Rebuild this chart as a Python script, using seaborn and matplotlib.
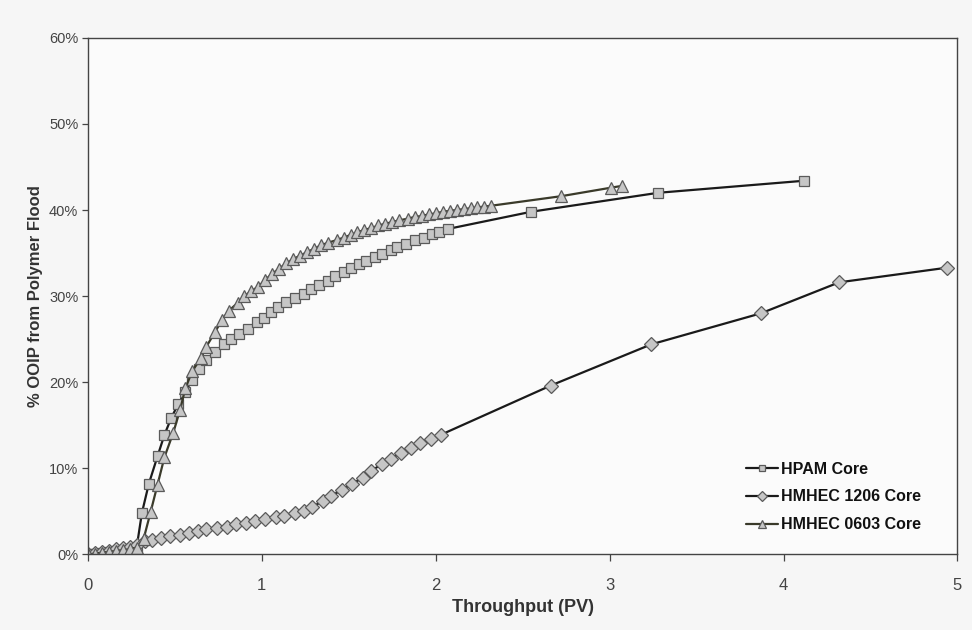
import matplotlib
matplotlib.use("Agg")
import matplotlib.pyplot as plt
import seaborn as sns
import pandas as pd
from matplotlib.ticker import PercentFormatter, MultipleLocator

# ---------------- data ----------------
hpam_x = [0, 0.04, 0.08, 0.12, 0.16, 0.20, 0.24, 0.28, 0.31, 0.35, 0.40, 0.44, 0.48,
          0.52, 0.56, 0.60, 0.64, 0.68, 0.73, 0.78, 0.82, 0.87, 0.92, 0.97, 1.01,
          1.05, 1.09, 1.14, 1.19, 1.24, 1.28, 1.33, 1.38, 1.42, 1.47, 1.51, 1.56,
          1.60, 1.65, 1.69, 1.74, 1.78, 1.83, 1.88, 1.93, 1.98, 2.02, 2.07,
          2.55, 3.28, 4.12]
hpam_y = [0, 0.1, 0.2, 0.3, 0.4, 0.5, 0.6, 0.8, 4.8, 8.2, 11.4, 13.9, 15.9,
          17.5, 18.9, 20.3, 21.5, 22.6, 23.5, 24.4, 25.0, 25.6, 26.2, 27.0, 27.5,
          28.1, 28.7, 29.3, 29.8, 30.3, 30.8, 31.3, 31.8, 32.3, 32.8, 33.3, 33.7,
          34.1, 34.5, 34.9, 35.3, 35.7, 36.1, 36.5, 36.8, 37.2, 37.5, 37.8,
          39.8, 42.0, 43.4]

hm1206_x = [0, 0.04, 0.08, 0.12, 0.16, 0.20, 0.24, 0.28, 0.33, 0.37, 0.42, 0.47,
            0.53, 0.58, 0.63, 0.68, 0.74, 0.80, 0.85, 0.91, 0.96, 1.02, 1.08,
            1.13, 1.19, 1.24, 1.29, 1.35, 1.40, 1.46, 1.52, 1.58, 1.63, 1.69,
            1.74, 1.80, 1.86, 1.91, 1.97, 2.03,
            2.66, 3.24, 3.87, 4.32, 4.94]
hm1206_y = [0, 0.15, 0.3, 0.45, 0.6, 0.75, 0.9, 1.1, 1.5, 1.7, 1.9, 2.1,
            2.3, 2.5, 2.7, 2.9, 3.1, 3.2, 3.5, 3.7, 3.9, 4.1, 4.3,
            4.5, 4.8, 5.0, 5.5, 6.2, 6.8, 7.5, 8.2, 8.9, 9.7, 10.5,
            11.1, 11.8, 12.4, 12.9, 13.4, 13.9,
            19.6, 24.4, 28.0, 31.6, 33.3]

hm0603_x = [0, 0.04, 0.08, 0.12, 0.16, 0.20, 0.24, 0.28, 0.32, 0.36, 0.40, 0.44,
            0.49, 0.53, 0.56, 0.60, 0.65, 0.68, 0.73, 0.77, 0.81, 0.86, 0.90,
            0.94, 0.98, 1.02, 1.06, 1.10, 1.14, 1.18, 1.22, 1.26, 1.30, 1.34,
            1.38, 1.43, 1.47, 1.51, 1.55, 1.59, 1.63, 1.67, 1.71, 1.75, 1.79,
            1.84, 1.88, 1.92, 1.96, 2.00, 2.04, 2.08, 2.12, 2.16, 2.20, 2.24,
            2.28, 2.32, 2.72, 3.01, 3.07]
hm0603_y = [0, 0.1, 0.2, 0.3, 0.4, 0.5, 0.6, 0.8, 1.8, 4.9, 8.1, 11.3,
            14.1, 16.8, 19.3, 21.3, 22.8, 24.1, 25.8, 27.2, 28.3, 29.2, 30.0,
            30.6, 31.1, 31.9, 32.6, 33.2, 33.8, 34.3, 34.7, 35.1, 35.5, 35.9,
            36.2, 36.5, 36.8, 37.1, 37.4, 37.7, 37.9, 38.2, 38.4, 38.6, 38.8,
            39.0, 39.2, 39.3, 39.5, 39.6, 39.8, 39.9, 40.0, 40.1, 40.2, 40.3,
            40.4, 40.5, 41.6, 42.6, 42.8]

series_names = ["HPAM Core", "HMHEC 1206 Core", "HMHEC 0603 Core"]
x_ticks = [0, 1, 2, 3, 4, 5]
x_label = "Throughput (PV)"
y_label = "% OOIP from Polymer Flood"

# ---------------- plot ----------------
sns.set_theme(style="white")
plt.rcParams["font.family"] = ["Liberation Sans", "DejaVu Sans"]

fig = plt.figure(figsize=(9.72, 6.3), dpi=100, facecolor="#f6f6f6")
ax = fig.add_axes([0.0905, 0.12, 0.8945, 0.82])
ax.set_facecolor("#fbfbfb")

styles = [
    dict(marker="s", ms=6.5, color="#1a1a1a"),
    dict(marker="D", ms=7, color="#1a1a1a"),
    dict(marker="^", ms=9, color="#3a3a2a"),
]
xs = [hpam_x, hm1206_x, hm0603_x]
ys = [hpam_y, hm1206_y, hm0603_y]

for name, x, y, st in zip(series_names, xs, ys, styles):
    df = pd.DataFrame({"x": x, "y": y})
    sns.lineplot(data=df, x="x", y="y", ax=ax, color=st["color"], lw=1.6,
                 marker=st["marker"], markersize=st["ms"],
                 markerfacecolor="#c6c6c6", markeredgecolor="#5a5a5a",
                 markeredgewidth=0.9, label=name, sort=False, estimator=None)

ax.set_xlim(0, 5)
ax.set_ylim(0, 60)
ax.set_xticks(x_ticks)
ax.yaxis.set_major_locator(MultipleLocator(10))
ax.yaxis.set_major_formatter(PercentFormatter(decimals=0))

for s in ax.spines.values():
    s.set_color("#444444")
    s.set_linewidth(1.0)

ax.tick_params(axis="x", which="major", direction="out", length=5, width=0.9,
               color="#444444", labelsize=12, labelcolor="#444444", pad=12)
ax.tick_params(axis="y", which="major", direction="out", length=4, width=0.9,
               color="#444444", labelsize=10.5, labelcolor="#444444", pad=3)
ax.tick_params(left=True, bottom=True)

ax.set_xlabel(x_label, fontsize=13, fontweight="bold", color="#333333", labelpad=4)
ax.set_ylabel(y_label, fontsize=12, fontweight="bold", color="#333333", labelpad=4)

leg = ax.legend(loc="lower right", bbox_to_anchor=(0.975, 0.015), frameon=False,
                prop={"weight": "bold", "size": 11.5}, handlelength=2.0,
                handletextpad=0.2, labelspacing=0.8, markerscale=0.7)
for t in leg.get_texts():
    t.set_color("#111111")

fig.savefig("out.png", dpi=100, facecolor=fig.get_facecolor())
